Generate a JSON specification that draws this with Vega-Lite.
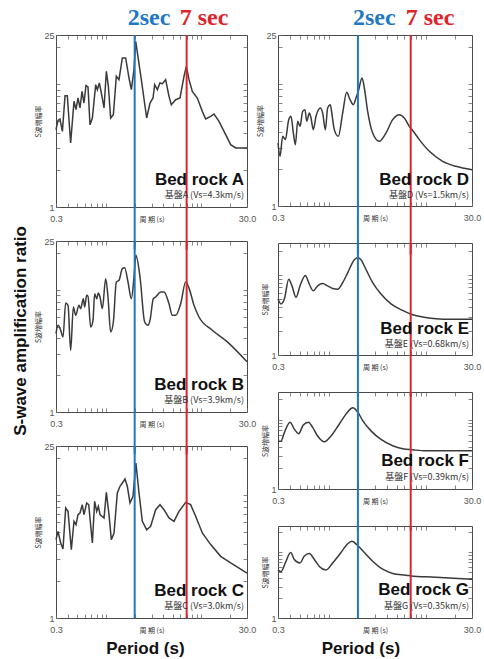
{
  "$schema": "https://vega.github.io/schema/vega-lite/v6.json",
  "padding": {"left": 12, "top": 5, "right": 0, "bottom": 0},
  "title": {"text": "S-wave amplification ratio", "orient": "left", "anchor": "middle", "fontSize": 17, "font": "Liberation Sans", "fontWeight": "bold", "color": "#111", "offset": 4},
  "datasets": {
    "lines": [{"sec": 2, "label": "2sec"}, {"sec": 7, "label": "7 sec"}],
    "A": [{"period":0.3,"ratio":4.25},{"period":0.315,"ratio":5.06},{"period":0.33,"ratio":5.19},{"period":0.35,"ratio":4.12},{"period":0.373,"ratio":8.03},{"period":0.394,"ratio":8.03},{"period":0.427,"ratio":3.31},{"period":0.463,"ratio":7.23},{"period":0.486,"ratio":6.18},{"period":0.51,"ratio":7.69},{"period":0.535,"ratio":6.38},{"period":0.562,"ratio":8.71},{"period":0.589,"ratio":7.0},{"period":0.618,"ratio":9.69},{"period":0.649,"ratio":9.45},{"period":0.681,"ratio":4.67},{"period":0.721,"ratio":5.29},{"period":0.781,"ratio":9.87},{"period":0.813,"ratio":8.99},{"period":0.853,"ratio":10.18},{"period":0.895,"ratio":8.45},{"period":0.955,"ratio":6.38},{"period":1.01,"ratio":12.67},{"period":1.06,"ratio":9.57},{"period":1.121,"ratio":5.29},{"period":1.196,"ratio":5.63},{"period":1.285,"ratio":11.54},{"period":1.37,"ratio":10.84},{"period":1.485,"ratio":16.26},{"period":1.609,"ratio":16.26},{"period":1.744,"ratio":11.18},{"period":1.845,"ratio":8.99},{"period":1.968,"ratio":13.07},{"period":2.05,"ratio":22.2},{"period":2.347,"ratio":10.84},{"period":2.67,"ratio":5.29},{"period":2.894,"ratio":7.0},{"period":3.111,"ratio":7.69},{"period":3.238,"ratio":9.87},{"period":3.453,"ratio":8.99},{"period":3.682,"ratio":10.18},{"period":3.893,"ratio":10.06},{"period":4.22,"ratio":10.84},{"period":4.575,"ratio":7.93},{"period":4.84,"ratio":6.79},{"period":5.373,"ratio":7.45},{"period":5.965,"ratio":7.69},{"period":6.567,"ratio":11.54},{"period":6.947,"ratio":13.91},{"period":7.411,"ratio":10.84},{"period":8.03,"ratio":8.71},{"period":9.059,"ratio":7.69},{"period":10.22,"ratio":5.99},{"period":11.08,"ratio":5.19},{"period":12.5,"ratio":5.46},{"period":13.54,"ratio":5.7},{"period":15.28,"ratio":4.97},{"period":17.94,"ratio":3.87},{"period":20.24,"ratio":3.21},{"period":22.82,"ratio":3.02},{"period":30,"ratio":3.02}],
    "B": [{"period":0.3,"ratio":4.37},{"period":0.315,"ratio":5.11},{"period":0.336,"ratio":4.65},{"period":0.355,"ratio":4.1},{"period":0.379,"ratio":7.78},{"period":0.401,"ratio":7.45},{"period":0.427,"ratio":3.19},{"period":0.456,"ratio":7.22},{"period":0.482,"ratio":6.17},{"period":0.522,"ratio":7.45},{"period":0.544,"ratio":6.99},{"period":0.58,"ratio":8.44},{"period":0.599,"ratio":7.22},{"period":0.628,"ratio":8.99},{"period":0.649,"ratio":8.82},{"period":0.692,"ratio":4.95},{"period":0.732,"ratio":5.62},{"period":0.762,"ratio":9.28},{"period":0.8,"ratio":8.44},{"period":0.833,"ratio":9.39},{"period":0.867,"ratio":8.71},{"period":0.917,"ratio":6.99},{"period":0.994,"ratio":12.3},{"period":1.051,"ratio":8.71},{"period":1.121,"ratio":4.51},{"period":1.196,"ratio":5.44},{"period":1.285,"ratio":11.56},{"period":1.37,"ratio":11.93},{"period":1.485,"ratio":14.85},{"period":1.571,"ratio":15.13},{"period":1.703,"ratio":11.56},{"period":1.845,"ratio":8.44},{"period":1.968,"ratio":12.7},{"period":2.06,"ratio":19.09},{"period":2.274,"ratio":12.7},{"period":2.545,"ratio":5.44},{"period":2.758,"ratio":5.11},{"period":2.894,"ratio":5.62},{"period":3.136,"ratio":8.44},{"period":3.317,"ratio":8.71},{"period":3.742,"ratio":9.57},{"period":4.055,"ratio":9.57},{"period":4.575,"ratio":7.68},{"period":4.957,"ratio":6.17},{"period":5.373,"ratio":6.17},{"period":6.062,"ratio":7.68},{"period":6.838,"ratio":11.56},{"period":7.411,"ratio":10.3},{"period":8.359,"ratio":7.45},{"period":9.43,"ratio":5.98},{"period":12.9,"ratio":4.68},{"period":18.68,"ratio":3.74},{"period":30,"ratio":2.57}],
    "C": [{"period":0.3,"ratio":4.33},{"period":0.315,"ratio":5.06},{"period":0.336,"ratio":4.07},{"period":0.355,"ratio":3.64},{"period":0.379,"ratio":7.84},{"period":0.401,"ratio":7.36},{"period":0.434,"ratio":3.59},{"period":0.463,"ratio":6.11},{"period":0.486,"ratio":5.74},{"period":0.51,"ratio":6.92},{"period":0.535,"ratio":7.14},{"period":0.565,"ratio":8.34},{"period":0.589,"ratio":6.92},{"period":0.628,"ratio":8.6},{"period":0.66,"ratio":8.34},{"period":0.721,"ratio":4.07},{"period":0.762,"ratio":8.88},{"period":0.8,"ratio":7.36},{"period":0.833,"ratio":8.08},{"period":0.867,"ratio":6.92},{"period":0.955,"ratio":6.5},{"period":1.01,"ratio":10.5},{"period":1.077,"ratio":6.92},{"period":1.139,"ratio":4.33},{"period":1.215,"ratio":4.91},{"period":1.316,"ratio":10.37},{"period":1.404,"ratio":11.76},{"period":1.485,"ratio":12.51},{"period":1.583,"ratio":13.48},{"period":1.675,"ratio":11.76},{"period":1.786,"ratio":8.6},{"period":1.921,"ratio":9.75},{"period":2.06,"ratio":18.19},{"period":2.22,"ratio":10.37},{"period":2.405,"ratio":6.11},{"period":2.67,"ratio":5.22},{"period":2.94,"ratio":5.56},{"period":3.317,"ratio":7.59},{"period":3.682,"ratio":8.34},{"period":4.055,"ratio":7.59},{"period":4.575,"ratio":6.5},{"period":5.16,"ratio":6.11},{"period":5.82,"ratio":7.36},{"period":6.838,"ratio":8.71},{"period":7.71,"ratio":8.34},{"period":8.7,"ratio":6.71},{"period":10.22,"ratio":4.91},{"period":12.5,"ratio":3.95},{"period":15.9,"ratio":3.17},{"period":20.24,"ratio":2.8},{"period":30,"ratio":2.32}],
    "D": [{"period":0.3,"ratio":3.27},{"period":0.315,"ratio":2.55},{"period":0.335,"ratio":3.71},{"period":0.357,"ratio":3.49},{"period":0.387,"ratio":5.08},{"period":0.408,"ratio":5.41},{"period":0.432,"ratio":3.95},{"period":0.453,"ratio":3.17},{"period":0.479,"ratio":4.92},{"period":0.506,"ratio":4.48},{"period":0.539,"ratio":5.94},{"period":0.569,"ratio":6.13},{"period":0.593,"ratio":4.92},{"period":0.631,"ratio":5.76},{"period":0.657,"ratio":5.24},{"period":0.694,"ratio":4.21},{"period":0.74,"ratio":5.41},{"period":0.82,"ratio":6.33},{"period":0.866,"ratio":5.76},{"period":0.923,"ratio":4.21},{"period":0.975,"ratio":6.33},{"period":1.039,"ratio":6.74},{"period":1.081,"ratio":5.58},{"period":1.142,"ratio":4.21},{"period":1.256,"ratio":3.71},{"period":1.393,"ratio":5.76},{"period":1.532,"ratio":8.5},{"period":1.658,"ratio":7.4},{"period":1.794,"ratio":6.74},{"period":1.911,"ratio":7.64},{"period":2.02,"ratio":8.66},{"period":2.204,"ratio":11.13},{"period":2.329,"ratio":9.22},{"period":2.52,"ratio":5.94},{"period":2.839,"ratio":3.95},{"period":3.325,"ratio":3.38},{"period":3.894,"ratio":3.95},{"period":4.563,"ratio":5.08},{"period":5.346,"ratio":5.58},{"period":6.02,"ratio":5.24},{"period":6.777,"ratio":4.48},{"period":7.452,"ratio":4.08},{"period":8.592,"ratio":3.49},{"period":10.9,"ratio":2.8},{"period":14.96,"ratio":2.32},{"period":20.52,"ratio":2.11},{"period":30,"ratio":1.98}],
    "E": [{"period":0.3,"ratio":5.0},{"period":0.322,"ratio":4.34},{"period":0.349,"ratio":5.0},{"period":0.387,"ratio":8.8},{"period":0.418,"ratio":7.29},{"period":0.46,"ratio":5.24},{"period":0.506,"ratio":7.29},{"period":0.574,"ratio":9.85},{"period":0.631,"ratio":7.64},{"period":0.694,"ratio":6.33},{"period":0.769,"ratio":7.29},{"period":0.866,"ratio":7.78},{"period":0.975,"ratio":7.29},{"period":1.098,"ratio":6.76},{"period":1.237,"ratio":6.63},{"period":1.393,"ratio":8.01},{"period":1.568,"ratio":10.62},{"period":1.837,"ratio":15.47},{"period":1.988,"ratio":16.52},{"period":2.152,"ratio":15.47},{"period":2.423,"ratio":11.67},{"period":2.839,"ratio":8.01},{"period":3.459,"ratio":5.76},{"period":4.386,"ratio":4.34},{"period":5.787,"ratio":3.6},{"period":7.335,"ratio":3.18},{"period":9.3,"ratio":2.98},{"period":12.76,"ratio":2.84},{"period":17.51,"ratio":2.79},{"period":30,"ratio":2.79}],
    "F": [{"period":0.3,"ratio":4.89},{"period":0.322,"ratio":4.89},{"period":0.349,"ratio":6.5},{"period":0.399,"ratio":9.16},{"period":0.442,"ratio":7.29},{"period":0.49,"ratio":6.28},{"period":0.547,"ratio":8.36},{"period":0.616,"ratio":9.16},{"period":0.683,"ratio":7.72},{"period":0.769,"ratio":5.8},{"period":0.901,"ratio":4.78},{"period":1.055,"ratio":5.8},{"period":1.287,"ratio":8.65},{"period":1.568,"ratio":12.9},{"period":1.766,"ratio":14.79},{"period":1.988,"ratio":12.9},{"period":2.239,"ratio":9.69},{"period":2.728,"ratio":6.88},{"period":3.459,"ratio":5.18},{"period":4.563,"ratio":4.21},{"period":5.787,"ratio":3.8},{"period":7.335,"ratio":3.67},{"period":10.07,"ratio":3.55},{"period":30,"ratio":3.55}],
    "G": [{"period":0.3,"ratio":5.38},{"period":0.322,"ratio":5.06},{"period":0.357,"ratio":6.87},{"period":0.405,"ratio":9.9},{"period":0.442,"ratio":7.76},{"period":0.506,"ratio":6.87},{"period":0.561,"ratio":8.76},{"period":0.631,"ratio":9.54},{"period":0.711,"ratio":7.76},{"period":0.8,"ratio":6.08},{"period":0.938,"ratio":5.38},{"period":1.098,"ratio":6.87},{"period":1.339,"ratio":9.9},{"period":1.568,"ratio":13.43},{"period":1.738,"ratio":14.62},{"period":1.988,"ratio":12.63},{"period":2.329,"ratio":9.9},{"period":2.839,"ratio":7.3},{"period":3.6,"ratio":5.51},{"period":4.563,"ratio":4.76},{"period":6.26,"ratio":4.48},{"period":7.452,"ratio":4.32},{"period":10.07,"ratio":4.22},{"period":17.5,"ratio":4.06},{"period":30,"ratio":3.87}]
  },
  "hconcat": [
    {
      "spacing": 34,
      "bounds": "flush",
      "title": {"text": "Period (s)", "orient": "bottom", "anchor": "middle", "fontSize": 17, "font": "Liberation Sans", "fontWeight": "bold", "color": "#111", "offset": 6},
      "vconcat": [
        {
          "width": 191, "height": 172,
          "data": {"name": "A"},
          "resolve": {"axis": {"x": "independent", "y": "independent"}},
          "layer": [
            {"mark": {"type": "line", "color": "#3a3a3a", "strokeWidth": 1.5},
             "encoding": {
               "x": {"field": "period", "type": "quantitative", "scale": {"type": "log", "domain": [0.3, 30], "nice": false}, "axis": {"values": [0.3,0.4,0.5,0.6,0.7,0.8,0.9,1,2,3,4,5,6,7,8,9,10,20,30], "labelExpr": "datum.value == 0.3 ? '0.3' : datum.value == 30 ? '30.0' : ''", "labelFlush": false, "labelOverlap": false, "labelBaseline": "middle", "labelPadding": 15, "title": "周 期 (s)", "titleY": 12, "titleBaseline": "middle"}},
               "y": {"field": "ratio", "type": "quantitative", "scale": {"type": "log", "domain": [1, 25], "nice": false}, "axis": {"values": [1,2,3,4,5,6,7,8,9,10,20,25], "labelExpr": "datum.value == 1 || datum.value == 25 ? datum.label : ''", "labelFlush": false, "labelOverlap": false, "labelPadding": 6, "title": "S波増幅率", "titlePadding": 2}}}},
            {"mark": {"type": "line", "opacity": 0},
             "encoding": {
               "x": {"field": "period", "type": "quantitative", "axis": {"orient": "top", "values": [0.4,0.5,0.6,0.7,0.8,0.9,1,2,3,4,5,6,7,8,9,10,20], "labels": false, "title": null}},
               "y": {"field": "ratio", "type": "quantitative", "axis": {"orient": "right", "values": [2,3,4,5,6,7,8,9,10,20], "labels": false, "title": null}}}},
            {"data": {"name": "lines"}, "mark": {"type": "rule", "strokeWidth": 2},
             "encoding": {
               "x": {"field": "sec", "type": "quantitative", "axis": null},
               "y": {"datum": 0.45, "type": "quantitative", "axis": null}, "y2": {"datum": 25},
               "color": {"field": "sec", "type": "nominal", "scale": {"domain": [2, 7], "range": ["#1f78c4", "#e0242b"]}, "legend": null}}},
            {"data": {"name": "lines"}, "mark": {"type": "text", "font": "Liberation Serif", "fontWeight": "bold", "fontSize": 24, "align": "left", "dx": -7, "baseline": "alphabetic"},
             "encoding": {
               "x": {"field": "sec", "type": "quantitative", "axis": null},
               "y": {"datum": 30.2, "type": "quantitative", "axis": null},
               "text": {"field": "label"},
               "color": {"field": "sec", "type": "nominal", "scale": {"domain": [2, 7], "range": ["#1f78c4", "#e0242b"]}, "legend": null}}},
            {"data": {"values": [{"name": "Bed rock A", "vs": "基盤A (Vs=4.3km/s)"}]},
             "mark": {"type": "text", "font": "Liberation Sans", "fontWeight": "bold", "fontSize": 17, "align": "right", "dx": -3, "baseline": "alphabetic", "color": "#111"},
             "encoding": {"x": {"datum": 30, "type": "quantitative", "axis": null}, "y": {"datum": 1.5, "type": "quantitative", "axis": null}, "text": {"field": "name"}}},
            {"data": {"values": [{"name": "Bed rock A", "vs": "基盤A (Vs=4.3km/s)"}]},
             "mark": {"type": "text", "font": "Noto Sans CJK JP", "fontSize": 9, "align": "right", "dx": -3, "baseline": "alphabetic", "color": "#333"},
             "encoding": {"x": {"datum": 30, "type": "quantitative", "axis": null}, "y": {"datum": 1.18, "type": "quantitative", "axis": null}, "text": {"field": "vs"}}}
          ]
        },
        {
          "width": 191, "height": 171,
          "data": {"name": "B"},
          "resolve": {"axis": {"x": "independent", "y": "independent"}},
          "layer": [
            {"mark": {"type": "line", "color": "#3a3a3a", "strokeWidth": 1.5, "interpolate": "monotone"},
             "encoding": {
               "x": {"field": "period", "type": "quantitative", "scale": {"type": "log", "domain": [0.3, 30], "nice": false}, "axis": {"values": [0.3,0.4,0.5,0.6,0.7,0.8,0.9,1,2,3,4,5,6,7,8,9,10,20,30], "labelExpr": "datum.value == 0.3 ? '0.3' : datum.value == 30 ? '30.0' : ''", "labelFlush": false, "labelOverlap": false, "labelBaseline": "middle", "labelPadding": 15, "title": "周 期 (s)", "titleY": 12, "titleBaseline": "middle"}},
               "y": {"field": "ratio", "type": "quantitative", "scale": {"type": "log", "domain": [1, 25], "nice": false}, "axis": {"values": [1,2,3,4,5,6,7,8,9,10,20,25], "labelExpr": "datum.value == 1 || datum.value == 25 ? datum.label : ''", "labelFlush": false, "labelOverlap": false, "labelPadding": 6, "title": "S波増幅率", "titlePadding": 2}}}},
            {"mark": {"type": "line", "opacity": 0},
             "encoding": {
               "x": {"field": "period", "type": "quantitative", "axis": {"orient": "top", "values": [0.4,0.5,0.6,0.7,0.8,0.9,1,2,3,4,5,6,7,8,9,10,20], "labels": false, "title": null}},
               "y": {"field": "ratio", "type": "quantitative", "axis": {"orient": "right", "values": [2,3,4,5,6,7,8,9,10,20], "labels": false, "title": null}}}},
            {"data": {"name": "lines"}, "mark": {"type": "rule", "strokeWidth": 2},
             "encoding": {
               "x": {"field": "sec", "type": "quantitative", "axis": null},
               "y": {"datum": 0.45, "type": "quantitative", "axis": null}, "y2": {"datum": 25},
               "color": {"field": "sec", "type": "nominal", "scale": {"domain": [2, 7], "range": ["#1f78c4", "#e0242b"]}, "legend": null}}},
            {"data": {"values": [{"name": "Bed rock B", "vs": "基盤B (Vs=3.9km/s)"}]},
             "mark": {"type": "text", "font": "Liberation Sans", "fontWeight": "bold", "fontSize": 17, "align": "right", "dx": -3, "baseline": "alphabetic", "color": "#111"},
             "encoding": {"x": {"datum": 30, "type": "quantitative", "axis": null}, "y": {"datum": 1.5, "type": "quantitative", "axis": null}, "text": {"field": "name"}}},
            {"data": {"values": [{"name": "Bed rock B", "vs": "基盤B (Vs=3.9km/s)"}]},
             "mark": {"type": "text", "font": "Noto Sans CJK JP", "fontSize": 9, "align": "right", "dx": -3, "baseline": "alphabetic", "color": "#333"},
             "encoding": {"x": {"datum": 30, "type": "quantitative", "axis": null}, "y": {"datum": 1.18, "type": "quantitative", "axis": null}, "text": {"field": "vs"}}}
          ]
        },
        {
          "width": 191, "height": 172,
          "data": {"name": "C"},
          "resolve": {"axis": {"x": "independent", "y": "independent"}},
          "layer": [
            {"mark": {"type": "line", "color": "#3a3a3a", "strokeWidth": 1.5},
             "encoding": {
               "x": {"field": "period", "type": "quantitative", "scale": {"type": "log", "domain": [0.3, 30], "nice": false}, "axis": {"values": [0.3,0.4,0.5,0.6,0.7,0.8,0.9,1,2,3,4,5,6,7,8,9,10,20,30], "labelExpr": "datum.value == 0.3 ? '0.3' : datum.value == 30 ? '30.0' : ''", "labelFlush": false, "labelOverlap": false, "labelBaseline": "middle", "labelPadding": 15, "title": "周 期 (s)", "titleY": 12, "titleBaseline": "middle"}},
               "y": {"field": "ratio", "type": "quantitative", "scale": {"type": "log", "domain": [1, 25], "nice": false}, "axis": {"values": [1,2,3,4,5,6,7,8,9,10,20,25], "labelExpr": "datum.value == 1 || datum.value == 25 ? datum.label : ''", "labelFlush": false, "labelOverlap": false, "labelPadding": 6, "title": "S波増幅率", "titlePadding": 2}}}},
            {"mark": {"type": "line", "opacity": 0},
             "encoding": {
               "x": {"field": "period", "type": "quantitative", "axis": {"orient": "top", "values": [0.4,0.5,0.6,0.7,0.8,0.9,1,2,3,4,5,6,7,8,9,10,20], "labels": false, "title": null}},
               "y": {"field": "ratio", "type": "quantitative", "axis": {"orient": "right", "values": [2,3,4,5,6,7,8,9,10,20], "labels": false, "title": null}}}},
            {"data": {"name": "lines"}, "mark": {"type": "rule", "strokeWidth": 2},
             "encoding": {
               "x": {"field": "sec", "type": "quantitative", "axis": null},
               "y": {"datum": 1, "type": "quantitative", "axis": null}, "y2": {"datum": 25},
               "color": {"field": "sec", "type": "nominal", "scale": {"domain": [2, 7], "range": ["#1f78c4", "#e0242b"]}, "legend": null}}},
            {"data": {"values": [{"name": "Bed rock C", "vs": "基盤C (Vs=3.0km/s)"}]},
             "mark": {"type": "text", "font": "Liberation Sans", "fontWeight": "bold", "fontSize": 17, "align": "right", "dx": -3, "baseline": "alphabetic", "color": "#111"},
             "encoding": {"x": {"datum": 30, "type": "quantitative", "axis": null}, "y": {"datum": 1.52, "type": "quantitative", "axis": null}, "text": {"field": "name"}}},
            {"data": {"values": [{"name": "Bed rock C", "vs": "基盤C (Vs=3.0km/s)"}]},
             "mark": {"type": "text", "font": "Noto Sans CJK JP", "fontSize": 9, "align": "right", "dx": -3, "baseline": "alphabetic", "color": "#333"},
             "encoding": {"x": {"datum": 30, "type": "quantitative", "axis": null}, "y": {"datum": 1.18, "type": "quantitative", "axis": null}, "text": {"field": "vs"}}}
          ]
        }
      ]
    },
    {
      "spacing": 37,
      "bounds": "flush",
      "title": {"text": "Period (s)", "orient": "bottom", "anchor": "middle", "fontSize": 17, "font": "Liberation Sans", "fontWeight": "bold", "color": "#111", "offset": 6, "dx": -8},
      "vconcat": [
        {
          "width": 194, "height": 171,
          "data": {"name": "D"},
          "resolve": {"axis": {"x": "independent", "y": "independent"}},
          "layer": [
            {"mark": {"type": "line", "color": "#3a3a3a", "strokeWidth": 1.5, "interpolate": "monotone"},
             "encoding": {
               "x": {"field": "period", "type": "quantitative", "scale": {"type": "log", "domain": [0.3, 30], "nice": false}, "axis": {"values": [0.3,0.4,0.5,0.6,0.7,0.8,0.9,1,2,3,4,5,6,7,8,9,10,20,30], "labelExpr": "datum.value == 0.3 ? '0.3' : datum.value == 30 ? '30.0' : ''", "labelFlush": false, "labelOverlap": false, "labelBaseline": "middle", "labelPadding": 15, "title": "周 期 (s)", "titleY": 12, "titleBaseline": "middle"}},
               "y": {"field": "ratio", "type": "quantitative", "scale": {"type": "log", "domain": [1, 25], "nice": false}, "axis": {"values": [1,2,3,4,5,6,7,8,9,10,20,25], "labelExpr": "datum.value == 1 || datum.value == 25 ? datum.label : ''", "labelFlush": false, "labelOverlap": false, "labelPadding": 6, "title": "S波増幅率", "titlePadding": 2}}}},
            {"mark": {"type": "line", "opacity": 0},
             "encoding": {
               "x": {"field": "period", "type": "quantitative", "axis": {"orient": "top", "values": [0.4,0.5,0.6,0.7,0.8,0.9,1,2,3,4,5,6,7,8,9,10,20], "labels": false, "title": null}},
               "y": {"field": "ratio", "type": "quantitative", "axis": {"orient": "right", "values": [2,3,4,5,6,7,8,9,10,20], "labels": false, "title": null}}}},
            {"data": {"name": "lines"}, "mark": {"type": "rule", "strokeWidth": 2},
             "encoding": {
               "x": {"field": "sec", "type": "quantitative", "axis": null},
               "y": {"datum": 0.4, "type": "quantitative", "axis": null}, "y2": {"datum": 25},
               "color": {"field": "sec", "type": "nominal", "scale": {"domain": [2, 7], "range": ["#1f78c4", "#e0242b"]}, "legend": null}}},
            {"data": {"name": "lines"}, "mark": {"type": "text", "font": "Liberation Serif", "fontWeight": "bold", "fontSize": 24, "align": "left", "dx": -5, "baseline": "alphabetic"},
             "encoding": {
               "x": {"field": "sec", "type": "quantitative", "axis": null},
               "y": {"datum": 30.2, "type": "quantitative", "axis": null},
               "text": {"field": "label"},
               "color": {"field": "sec", "type": "nominal", "scale": {"domain": [2, 7], "range": ["#1f78c4", "#e0242b"]}, "legend": null}}},
            {"data": {"values": [{"name": "Bed rock D", "vs": "基盤D (Vs=1.5km/s)"}]},
             "mark": {"type": "text", "font": "Liberation Sans", "fontWeight": "bold", "fontSize": 17, "align": "right", "dx": -3, "baseline": "alphabetic", "color": "#111"},
             "encoding": {"x": {"datum": 30, "type": "quantitative", "axis": null}, "y": {"datum": 1.48, "type": "quantitative", "axis": null}, "text": {"field": "name"}}},
            {"data": {"values": [{"name": "Bed rock D", "vs": "基盤D (Vs=1.5km/s)"}]},
             "mark": {"type": "text", "font": "Noto Sans CJK JP", "fontSize": 9, "align": "right", "dx": -3, "baseline": "alphabetic", "color": "#333"},
             "encoding": {"x": {"datum": 30, "type": "quantitative", "axis": null}, "y": {"datum": 1.17, "type": "quantitative", "axis": null}, "text": {"field": "vs"}}}
          ]
        },
        {
          "width": 194, "height": 112,
          "data": {"name": "E"},
          "resolve": {"axis": {"x": "independent", "y": "independent"}},
          "layer": [
            {"mark": {"type": "line", "color": "#3a3a3a", "strokeWidth": 1.5, "interpolate": "monotone"},
             "encoding": {
               "x": {"field": "period", "type": "quantitative", "scale": {"type": "log", "domain": [0.3, 30], "nice": false}, "axis": {"values": [0.3,0.4,0.5,0.6,0.7,0.8,0.9,1,2,3,4,5,6,7,8,9,10,20,30], "labelExpr": "datum.value == 0.3 ? '0.3' : datum.value == 30 ? '30.0' : ''", "labelFlush": false, "labelOverlap": false, "labelBaseline": "middle", "labelPadding": 15, "title": "周 期 (s)", "titleY": 12, "titleBaseline": "middle"}},
               "y": {"field": "ratio", "type": "quantitative", "scale": {"type": "log", "domain": [1, 25], "nice": false}, "axis": {"values": [1,2,3,4,5,6,7,8,9,10,20], "labelExpr": "datum.value == 1 ? '1' : ''", "labelFlush": false, "labelOverlap": false, "labelPadding": 6, "title": "S波増幅率", "titlePadding": 2}}}},
            {"mark": {"type": "line", "opacity": 0},
             "encoding": {
               "x": {"field": "period", "type": "quantitative", "axis": {"orient": "top", "values": [0.4,0.5,0.6,0.7,0.8,0.9,1,2,3,4,5,6,7,8,9,10,20], "labels": false, "title": null}},
               "y": {"field": "ratio", "type": "quantitative", "axis": {"orient": "right", "values": [2,3,4,5,6,7,8,9,10,20], "labels": false, "title": null}}}},
            {"data": {"name": "lines"}, "mark": {"type": "rule", "strokeWidth": 2},
             "encoding": {
               "x": {"field": "sec", "type": "quantitative", "axis": null},
               "y": {"datum": 0.3, "type": "quantitative", "axis": null}, "y2": {"datum": 25},
               "color": {"field": "sec", "type": "nominal", "scale": {"domain": [2, 7], "range": ["#1f78c4", "#e0242b"]}, "legend": null}}},
            {"data": {"values": [{"name": "Bed rock E", "vs": "基盤E (Vs=0.68km/s)"}]},
             "mark": {"type": "text", "font": "Liberation Sans", "fontWeight": "bold", "fontSize": 17, "align": "right", "dx": -3, "baseline": "alphabetic", "color": "#111"},
             "encoding": {"x": {"datum": 30, "type": "quantitative", "axis": null}, "y": {"datum": 1.83, "type": "quantitative", "axis": null}, "text": {"field": "name"}}},
            {"data": {"values": [{"name": "Bed rock E", "vs": "基盤E (Vs=0.68km/s)"}]},
             "mark": {"type": "text", "font": "Noto Sans CJK JP", "fontSize": 9, "align": "right", "dx": -3, "baseline": "alphabetic", "color": "#333"},
             "encoding": {"x": {"datum": 30, "type": "quantitative", "axis": null}, "y": {"datum": 1.27, "type": "quantitative", "axis": null}, "text": {"field": "vs"}}}
          ]
        },
        {
          "width": 194, "height": 97,
          "data": {"name": "F"},
          "resolve": {"axis": {"x": "independent", "y": "independent"}},
          "layer": [
            {"mark": {"type": "line", "color": "#3a3a3a", "strokeWidth": 1.5, "interpolate": "monotone"},
             "encoding": {
               "x": {"field": "period", "type": "quantitative", "scale": {"type": "log", "domain": [0.3, 30], "nice": false}, "axis": {"values": [0.3,0.4,0.5,0.6,0.7,0.8,0.9,1,2,3,4,5,6,7,8,9,10,20,30], "labelExpr": "datum.value == 0.3 ? '0.3' : datum.value == 30 ? '30.0' : ''", "labelFlush": false, "labelOverlap": false, "labelBaseline": "middle", "labelPadding": 15, "title": "周 期 (s)", "titleY": 12, "titleBaseline": "middle"}},
               "y": {"field": "ratio", "type": "quantitative", "scale": {"type": "log", "domain": [1, 25], "nice": false}, "axis": {"values": [1,2,3,4,5,6,7,8,9,10,20], "labelExpr": "datum.value == 1 ? '1' : ''", "labelFlush": false, "labelOverlap": false, "labelPadding": 6, "title": "S波増幅率", "titlePadding": 2}}}},
            {"mark": {"type": "line", "opacity": 0},
             "encoding": {
               "x": {"field": "period", "type": "quantitative", "axis": {"orient": "top", "values": [0.4,0.5,0.6,0.7,0.8,0.9,1,2,3,4,5,6,7,8,9,10,20], "labels": false, "title": null}},
               "y": {"field": "ratio", "type": "quantitative", "axis": {"orient": "right", "values": [2,3,4,5,6,7,8,9,10,20], "labels": false, "title": null}}}},
            {"data": {"name": "lines"}, "mark": {"type": "rule", "strokeWidth": 2},
             "encoding": {
               "x": {"field": "sec", "type": "quantitative", "axis": null},
               "y": {"datum": 0.25, "type": "quantitative", "axis": null}, "y2": {"datum": 25},
               "color": {"field": "sec", "type": "nominal", "scale": {"domain": [2, 7], "range": ["#1f78c4", "#e0242b"]}, "legend": null}}},
            {"data": {"values": [{"name": "Bed rock F", "vs": "基盤F (Vs=0.39km/s)"}]},
             "mark": {"type": "text", "font": "Liberation Sans", "fontWeight": "bold", "fontSize": 17, "align": "right", "dx": -3, "baseline": "alphabetic", "color": "#111"},
             "encoding": {"x": {"datum": 30, "type": "quantitative", "axis": null}, "y": {"datum": 2.14, "type": "quantitative", "axis": null}, "text": {"field": "name"}}},
            {"data": {"values": [{"name": "Bed rock F", "vs": "基盤F (Vs=0.39km/s)"}]},
             "mark": {"type": "text", "font": "Noto Sans CJK JP", "fontSize": 9, "align": "right", "dx": -3, "baseline": "alphabetic", "color": "#333"},
             "encoding": {"x": {"datum": 30, "type": "quantitative", "axis": null}, "y": {"datum": 1.35, "type": "quantitative", "axis": null}, "text": {"field": "vs"}}}
          ]
        },
        {
          "width": 194, "height": 92,
          "data": {"name": "G"},
          "resolve": {"axis": {"x": "independent", "y": "independent"}},
          "layer": [
            {"mark": {"type": "line", "color": "#3a3a3a", "strokeWidth": 1.5, "interpolate": "monotone"},
             "encoding": {
               "x": {"field": "period", "type": "quantitative", "scale": {"type": "log", "domain": [0.3, 30], "nice": false}, "axis": {"values": [0.3,0.4,0.5,0.6,0.7,0.8,0.9,1,2,3,4,5,6,7,8,9,10,20,30], "labelExpr": "datum.value == 0.3 ? '0.3' : datum.value == 30 ? '30.0' : ''", "labelFlush": false, "labelOverlap": false, "labelBaseline": "middle", "labelPadding": 15, "title": "周 期 (s)", "titleY": 12, "titleBaseline": "middle"}},
               "y": {"field": "ratio", "type": "quantitative", "scale": {"type": "log", "domain": [1, 25], "nice": false}, "axis": {"values": [1,2,3,4,5,6,7,8,9,10,20], "labelExpr": "datum.value == 1 ? '1' : ''", "labelFlush": false, "labelOverlap": false, "labelPadding": 6, "title": "S波増幅率", "titlePadding": 2}}}},
            {"mark": {"type": "line", "opacity": 0},
             "encoding": {
               "x": {"field": "period", "type": "quantitative", "axis": {"orient": "top", "values": [0.4,0.5,0.6,0.7,0.8,0.9,1,2,3,4,5,6,7,8,9,10,20], "labels": false, "title": null}},
               "y": {"field": "ratio", "type": "quantitative", "axis": {"orient": "right", "values": [2,3,4,5,6,7,8,9,10,20], "labels": false, "title": null}}}},
            {"data": {"name": "lines"}, "mark": {"type": "rule", "strokeWidth": 2},
             "encoding": {
               "x": {"field": "sec", "type": "quantitative", "axis": null},
               "y": {"datum": 1, "type": "quantitative", "axis": null}, "y2": {"datum": 25},
               "color": {"field": "sec", "type": "nominal", "scale": {"domain": [2, 7], "range": ["#1f78c4", "#e0242b"]}, "legend": null}}},
            {"data": {"values": [{"name": "Bed rock G", "vs": "基盤G (Vs=0.35km/s)"}]},
             "mark": {"type": "text", "font": "Liberation Sans", "fontWeight": "bold", "fontSize": 17, "align": "right", "dx": -3, "baseline": "alphabetic", "color": "#111"},
             "encoding": {"x": {"datum": 30, "type": "quantitative", "axis": null}, "y": {"datum": 2.22, "type": "quantitative", "axis": null}, "text": {"field": "name"}}},
            {"data": {"values": [{"name": "Bed rock G", "vs": "基盤G (Vs=0.35km/s)"}]},
             "mark": {"type": "text", "font": "Noto Sans CJK JP", "fontSize": 9, "align": "right", "dx": -3, "baseline": "alphabetic", "color": "#333"},
             "encoding": {"x": {"datum": 30, "type": "quantitative", "axis": null}, "y": {"datum": 1.37, "type": "quantitative", "axis": null}, "text": {"field": "vs"}}}
          ]
        }
      ]
    }
  ],
  "spacing": -1,
  "config": {
    "view": {"stroke": "#4a4a4a", "strokeWidth": 1},
    "axis": {"domain": false, "grid": false, "labelFont": "Liberation Sans", "labelFontSize": 9, "labelColor": "#555", "tickColor": "#666", "tickSize": -4, "tickWidth": 0.8, "titleFont": "Noto Sans CJK JP", "titleFontSize": 7, "titleFontWeight": "normal", "titleColor": "#333"}
  }
}
